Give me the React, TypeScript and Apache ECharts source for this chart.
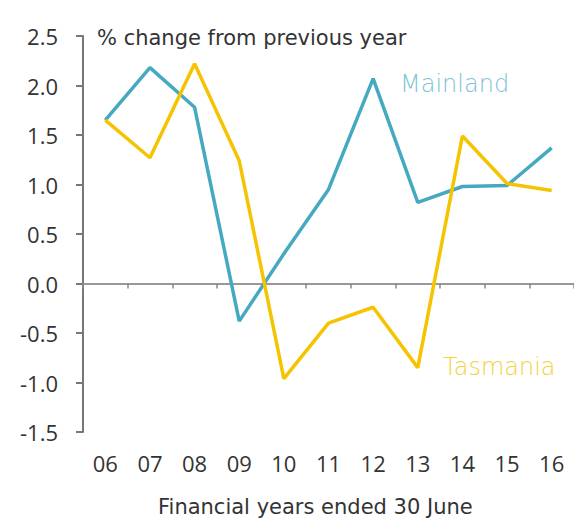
import React, { useEffect, useRef } from "react";
import * as echarts from "echarts";

const years = ["06", "07", "08", "09", "10", "11", "12", "13", "14", "15", "16"];
const mainland = [1.65, 2.18, 1.78, -0.38, 0.3, 0.95, 2.07, 0.82, 0.98, 0.99, 1.37];
const tasmania = [1.65, 1.27, 2.22, 1.24, -0.96, -0.4, -0.24, -0.85, 1.49, 1.01, 0.94];
const yTicks = { min: -1.5, max: 2.5, interval: 0.5 };

const FONT = "'Open Sans', 'DejaVu Sans', sans-serif";
const WIDE = "'DejaVu Sans', sans-serif";
const MAIN_COLOR = "#45a9c2";
const TAS_COLOR = "#f5c300";

export default function App() {
  const ref = useRef<HTMLDivElement>(null);
  useEffect(() => {
    if (!ref.current) return;
    const chart = echarts.init(ref.current, null, { renderer: "svg" });
    chart.setOption({
      animation: false,
      backgroundColor: "#ffffff",
      grid: { left: 83, top: 36, width: 495, height: 396 },
      xAxis: [
        {
          type: "category",
          data: years,
          position: "bottom",
          boundaryGap: true,
          axisLine: { show: false, onZero: false },
          axisTick: { show: false },
          axisLabel: { fontSize: 22, color: "#333", fontFamily: FONT, margin: 20 },
        },
        {
          type: "category",
          data: years,
          position: "bottom",
          boundaryGap: true,
          axisLine: { show: true, onZero: true, lineStyle: { color: "#999", width: 2 } },
          axisTick: { show: true, length: 5, lineStyle: { color: "#888", width: 1.5 } },
          axisLabel: { show: false },
        },
      ],
      yAxis: {
        type: "value",
        min: yTicks.min,
        max: yTicks.max,
        interval: yTicks.interval,
        axisLine: { show: true, onZero: false, lineStyle: { color: "#777", width: 2 } },
        axisTick: { show: true, length: 7, lineStyle: { color: "#777", width: 2 } },
        splitLine: { show: false },
        axisLabel: {
          fontSize: 22,
          color: "#333",
          fontFamily: FONT,
          margin: 25,
          formatter: (v: number) => v.toFixed(1),
        },
      },
      series: [
        {
          name: "Mainland",
          type: "line",
          data: mainland,
          symbol: "none",
          lineStyle: { color: MAIN_COLOR, width: 3.5 },
          z: 3,
        },
        {
          name: "Tasmania",
          type: "line",
          data: tasmania,
          symbol: "none",
          lineStyle: { color: TAS_COLOR, width: 3.5 },
          z: 4,
        },
      ],
      graphic: [
        {
          type: "text",
          left: 97,
          top: 27,
          style: { text: "% change from previous year", fontSize: 21, fill: "#333", fontFamily: WIDE },
        },
        {
          type: "text",
          left: 400,
          top: 72,
          style: { text: "Mainland", fontSize: 24, fontWeight: 200, fill: "#7cc3d6", fontFamily: WIDE },
        },
        {
          type: "text",
          left: 443,
          top: 355,
          style: { text: "Tasmania", fontSize: 24, fontWeight: 200, fill: "#f2d23c", fontFamily: WIDE },
        },
        {
          type: "text",
          left: 158,
          top: 496,
          style: { text: "Financial years ended 30 June", fontSize: 21, fill: "#333", fontFamily: WIDE },
        },
      ],
    });
    return () => chart.dispose();
  }, []);
  return (
    <div
      ref={ref}
      style={{ position: "fixed", left: 0, top: 0, width: 574, height: 524 }}
    />
  );
}
